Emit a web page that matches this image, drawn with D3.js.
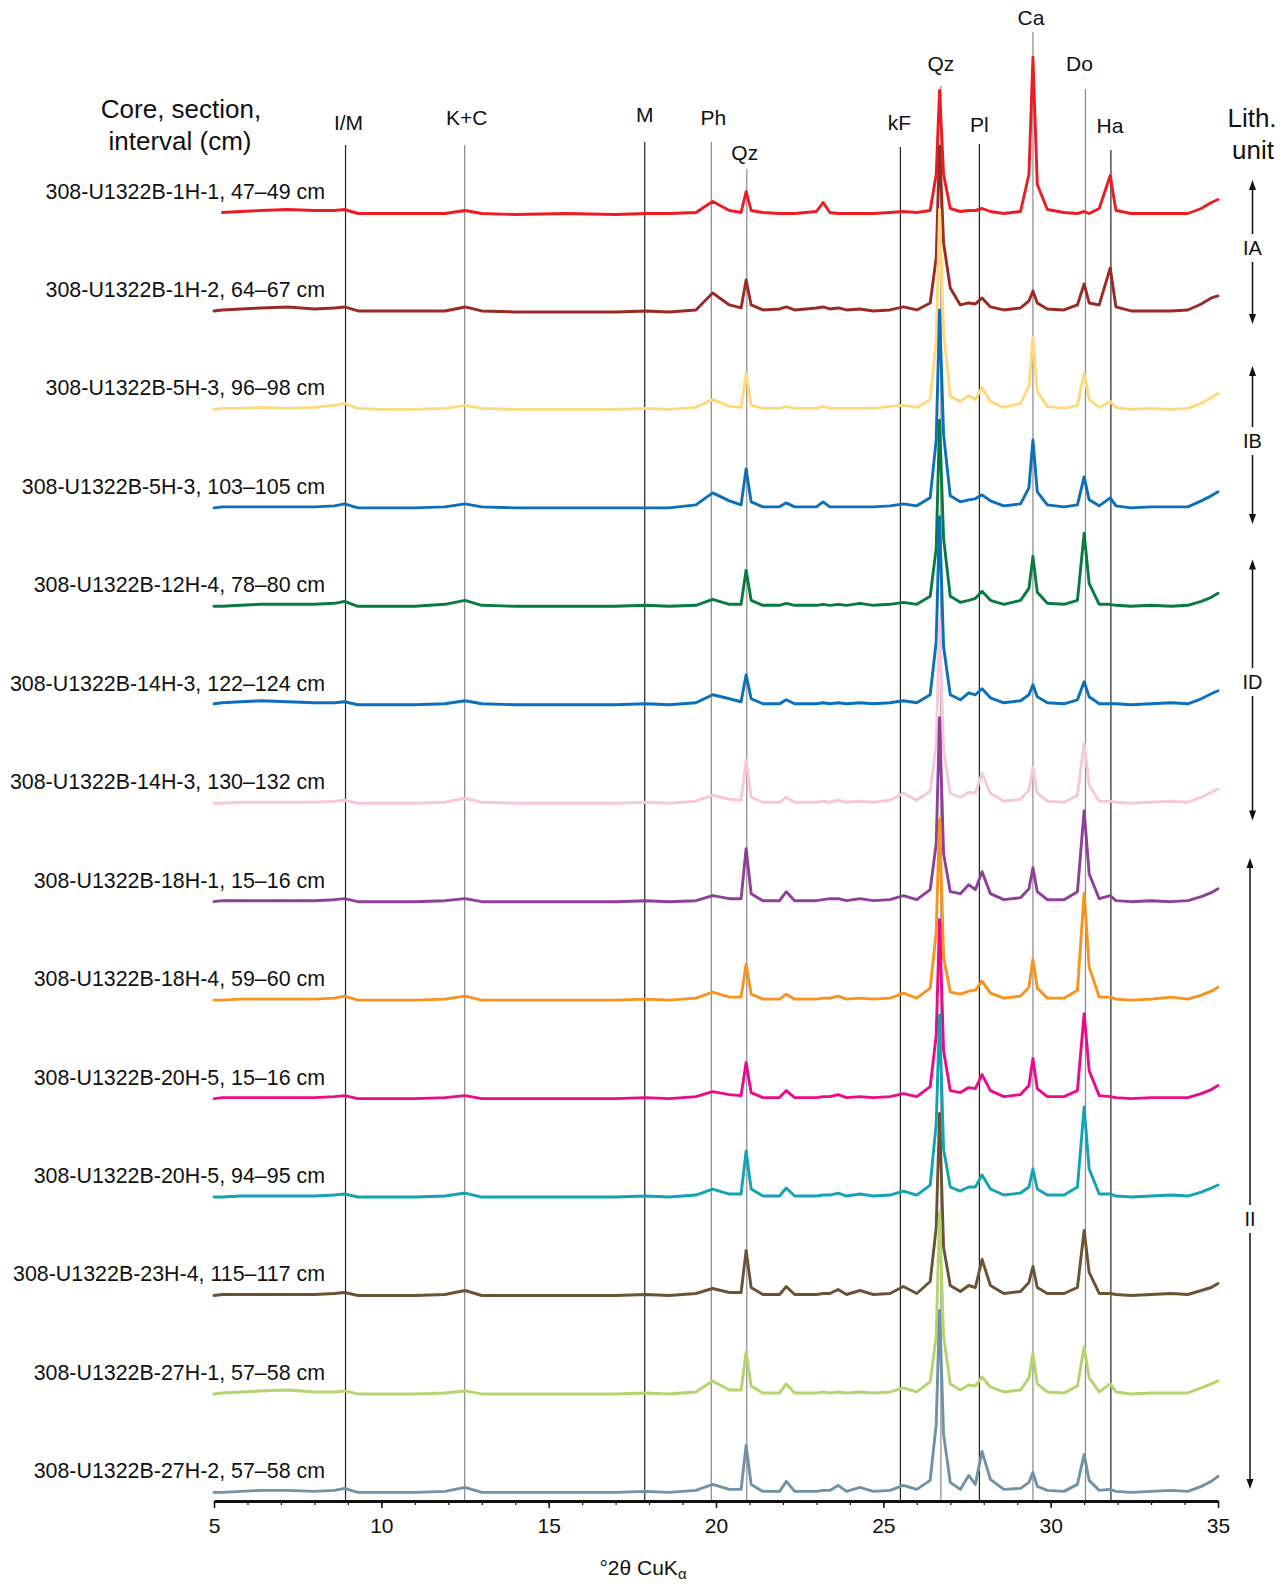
<!DOCTYPE html>
<html><head><meta charset="utf-8">
<script src="https://cdn.jsdelivr.net/npm/d3@7"></script>
<style>
body{margin:0;background:#fff}
svg{display:block}
text{font-family:"Liberation Sans",Arial,Helvetica,sans-serif;fill:#111}
</style>
</head><body>
<svg id="chart" width="1288" height="1587"></svg>
<script>
// ---------- DATA ----------
const twoTheta = [5.0,5.25,5.8,6.4,7.2,8.0,8.6,8.9,9.3,10.0,11.0,
  11.9,12.5,13.0,14.0,15.5,17.0,17.9,18.6,19.4,19.9,
  20.4,20.75,20.9,21.05,21.4,21.9,22.1,22.35,23.0,23.2,
  23.4,23.65,23.9,24.3,24.7,25.2,25.6,26.0,26.4,26.58,
  26.68,26.8,27.0,27.3,27.55,27.75,27.95,28.2,28.6,29.1,
  29.35,29.47,29.6,29.9,30.4,30.8,31.0,31.15,31.45,31.78,
  31.95,32.4,33.0,33.6,34.1,34.5,34.8,35.0];

const samples = [
  "308-U1322B-1H-1, 47–49 cm",
  "308-U1322B-1H-2, 64–67 cm",
  "308-U1322B-5H-3, 96–98 cm",
  "308-U1322B-5H-3, 103–105 cm",
  "308-U1322B-12H-4, 78–80 cm",
  "308-U1322B-14H-3, 122–124 cm",
  "308-U1322B-14H-3, 130–132 cm",
  "308-U1322B-18H-1, 15–16 cm",
  "308-U1322B-18H-4, 59–60 cm",
  "308-U1322B-20H-5, 15–16 cm",
  "308-U1322B-20H-5, 94–95 cm",
  "308-U1322B-23H-4, 115–117 cm",
  "308-U1322B-27H-1, 57–58 cm",
  "308-U1322B-27H-2, 57–58 cm"
];

// relative intensities (arbitrary units) at each twoTheta position
const s1H1 = [null,2,3,4,5,4,4,5,1,1,1, 1,4,1,0,1,0,1,1,2,13, 4,2,23,4,2,1,1,1,3,12, 2,1,1,1,1,2,3,2,4,40, 124,40,6,3,4,4,6,3,1,3, 40,157,30,5,2,1,3,1,6,39, 4,1,1,1,1,6,12,15];
const s1H2 = [2,3,4,5,6,4,5,6,2,2,2, 2,6,2,1,1,1,2,1,3,20, 8,5,33,8,3,4,6,3,5,6, 4,5,3,4,2,3,6,3,10,55, 167,70,25,8,10,9,15,6,3,5, 12,22,10,4,3,8,29,10,8,45, 6,2,2,2,3,9,15,17];
const s5H3a = [2,3,3,4,3,4,6,8,3,2,2, 3,6,3,2,2,2,3,2,4,12, 5,4,38,6,3,3,5,3,3,5, 3,3,3,3,3,5,6,4,12,70, 202,80,15,10,16,12,24,10,4,8, 25,74,20,5,3,6,38,12,4,10, 4,2,3,2,3,8,14,18];
const s5H3b = [2,3,3,3,3,3,4,6,2,2,2, 3,6,3,2,2,2,2,2,5,17, 9,5,41,8,3,3,7,3,3,8, 3,3,3,3,3,4,6,4,12,70, 200,75,14,8,10,11,15,9,4,6, 22,70,18,5,3,5,33,10,4,12, 4,2,3,3,3,9,14,18];
const s12H4 = [2,2,3,4,4,4,5,7,2,2,2, 4,8,3,2,2,2,3,2,3,9, 4,4,38,8,3,3,5,3,3,4, 3,4,3,5,3,4,6,4,12,60, 188,70,12,6,8,10,17,8,4,8, 20,52,16,5,4,8,75,25,4,4, 3,2,3,2,3,7,11,15];
const s14H3a = [3,4,5,6,5,4,4,5,2,2,2, 3,6,3,2,2,2,3,2,4,12, 8,5,32,8,3,3,7,3,3,4, 3,4,3,4,3,4,6,4,12,65, 190,60,12,7,14,12,18,9,4,6, 12,22,10,4,3,7,25,10,3,3, 3,2,3,4,3,8,13,16];
const s14H3b = [2,2,3,3,3,3,4,5,2,2,2, 3,7,3,2,2,2,3,2,4,10, 6,5,45,8,3,3,8,3,3,4, 3,5,3,4,3,5,12,5,14,60, 185,55,12,8,13,12,32,12,4,6, 15,38,12,4,3,10,62,20,4,4, 3,2,3,4,3,8,13,16];
const s18H1 = [2,3,3,3,3,3,4,5,2,2,2, 3,5,2,2,2,2,3,2,3,8, 5,5,55,10,3,3,12,3,3,4, 5,5,3,5,3,4,8,4,14,60, 186,50,12,10,19,14,32,10,4,6, 15,36,12,4,4,12,93,30,5,8, 3,2,3,2,3,7,11,15];
const s18H4 = [2,2,3,3,3,3,4,6,2,2,2, 3,6,2,2,2,2,3,2,4,10, 5,5,38,8,3,3,8,3,3,4, 4,6,3,4,3,4,9,4,14,70, 183,45,10,8,11,12,21,9,4,6, 15,43,14,4,4,12,109,35,5,5, 3,2,3,5,3,7,11,15];
const s20H5a = [2,3,3,3,3,3,4,5,2,2,2, 3,5,2,2,2,2,3,2,4,9, 6,5,38,8,3,3,10,3,3,4, 4,6,3,4,3,4,7,4,14,65, 181,50,10,8,13,12,26,10,4,6, 15,42,12,4,4,10,87,30,5,4, 3,2,3,3,3,7,11,15];
const s20H5b = [2,2,3,3,3,3,4,5,2,2,2, 3,6,2,2,2,2,3,2,4,10, 5,5,48,10,3,3,11,3,3,4, 4,6,3,5,3,4,8,4,14,75, 184,50,12,8,12,12,24,10,4,6, 12,30,10,4,4,12,92,30,5,5, 3,2,3,4,3,7,11,14];
const s23H4 = [2,3,3,3,3,3,4,5,2,2,2, 3,7,2,2,2,2,3,2,4,9, 5,5,47,10,3,3,11,3,3,4, 4,8,3,7,3,4,11,4,16,70, 184,50,12,6,12,10,38,12,4,6, 15,31,10,4,4,10,67,25,4,4, 3,2,3,4,3,7,10,14];
const s27H1 = [2,3,4,5,6,4,4,5,2,2,2, 3,5,2,2,2,2,3,2,4,15, 6,6,44,10,3,3,12,3,3,4, 3,4,3,4,3,4,8,4,14,60, 184,60,12,6,11,10,19,9,4,6, 18,43,12,4,3,10,49,18,4,12, 4,2,3,3,3,8,12,15];
const s27H2 = [2,2,3,4,4,3,4,6,2,2,2, 3,7,2,2,2,2,3,2,4,10, 5,5,49,10,3,3,13,3,3,4, 4,9,3,7,3,4,9,5,14,70, 184,60,12,5,19,10,43,15,5,6, 12,22,8,4,3,10,40,14,4,5, 3,2,3,4,3,8,13,18];

const seriesValues = [s1H1,s1H2,s5H3a,s5H3b,s12H4,s14H3a,s14H3b,s18H1,s18H4,s20H5a,s20H5b,s23H4,s27H1,s27H2];

const mineralNames = ["I/M","K+C","M","Ph","Qz","kF","Qz","Pl","Ca","Do","Ha"];
const mineralTheta = [8.93,12.49,17.87,19.86,20.92,25.51,26.72,27.87,29.47,31.04,31.8];

const xTickLabels = [5,10,15,20,25,30,35];

const unitNames = ["IA","IB","ID","II"];

// ---------- STYLE / LAYOUT ----------
const colors = ["#ED1C24","#992A26","#FED97E","#0B6FBA","#0A7A43","#0B70BC","#F7C7DA",
                "#8E3F98","#F7931E","#EC0A8C","#12A3B5","#6A5234","#B5D46E","#6F93A6"];
const mineralLabelY = [129.5,125,122,125,159.5,130,71,132,25,71,133];
const mineralLabelDx = [3,2,0,2,-2,-1,0,0,-2,-6,-1];
const mineralLineTop = [145,145,142,142,169,147,86,144,32,89,150];
const mineralLineColor = ["#222","#888","#222","#888","#888","#222","#888","#222","#888","#888","#222"];
const unitTop = [180,366,559.5,858];
const unitBottom = [324,524,820.5,1489];
const unitLabelY = [248,441,682,1219];
const unitX = [1252.5,1252.5,1252.5,1250];

const svg = d3.select("#chart");
const axisY = 1501;
const x = d3.scaleLinear().domain([5,35]).range([214,1218]);
const row = d3.scalePoint().domain(d3.range(samples.length)).range([214.5,1494.4]);
const yI = d3.scaleLinear().domain([0,200]).range([0,200]);

// reference lines
const gm = svg.append("g");
mineralNames.forEach((m,i)=>{
  gm.append("line")
    .attr("x1",x(mineralTheta[i])).attr("x2",x(mineralTheta[i]))
    .attr("y1",mineralLineTop[i]).attr("y2",axisY)
    .attr("stroke",mineralLineColor[i]).attr("stroke-width",1.2);
  gm.append("text")
    .attr("x",x(mineralTheta[i])+mineralLabelDx[i]).attr("y",mineralLabelY[i])
    .attr("text-anchor","middle").attr("font-size",21).text(m);
});

// traces
const gt = svg.append("g");
seriesValues.forEach((vals,i)=>{
  const pts = twoTheta.map((t,j)=>[t,vals[j]]);
  const line = d3.line().defined(d=>d[1]!=null)
    .x(d=>x(d[0])).y(d=>row(i)-yI(d[1]));
  gt.append("path").datum(pts).attr("d",line)
    .attr("fill","none").attr("stroke",colors[i])
    .attr("stroke-width",2.9).attr("stroke-linejoin","round").attr("stroke-linecap","round");
  svg.append("text").attr("x",325).attr("y",row(i)-16)
    .attr("text-anchor","end").attr("font-size",21.4).text(samples[i]);
});

// axis
const minor = svg.append("g").attr("transform",`translate(0,${axisY})`)
  .call(d3.axisBottom(x).tickValues(d3.range(5,36)).tickSize(4).tickFormat(""));
minor.select(".domain").remove();
minor.selectAll("line").attr("stroke","#111").attr("stroke-width",1.2);
const major = svg.append("g").attr("transform",`translate(0,${axisY})`)
  .call(d3.axisBottom(x).tickValues(xTickLabels).tickSize(7).tickSizeOuter(0).tickPadding(10));
major.select(".domain").attr("stroke","#111").attr("stroke-width",3);
major.selectAll(".tick line").attr("stroke","#111").attr("stroke-width",1.5);
major.selectAll(".tick text").attr("font-size",21).attr("font-family","Liberation Sans, Arial, sans-serif").attr("fill","#111");

const xt = svg.append("text").attr("x",643).attr("y",1575).attr("text-anchor","middle").attr("font-size",21);
xt.append("tspan").text("°2θ CuK");
xt.append("tspan").attr("dy",4).attr("font-size",15).text("α");

// headers
svg.append("text").attr("x",181).attr("y",118).attr("text-anchor","middle").attr("font-size",26).text("Core, section,");
svg.append("text").attr("x",180).attr("y",150).attr("text-anchor","middle").attr("font-size",26).text("interval (cm)");
svg.append("text").attr("x",1252).attr("y",127).attr("text-anchor","middle").attr("font-size",26).text("Lith.");
svg.append("text").attr("x",1253).attr("y",159).attr("text-anchor","middle").attr("font-size",26).text("unit");

// lith unit arrows
unitNames.forEach((u,i)=>{
  const ux = unitX[i], t = unitTop[i], b = unitBottom[i], ly = unitLabelY[i];
  const g = svg.append("g");
  g.append("line").attr("x1",ux).attr("x2",ux).attr("y1",t+8).attr("y2",ly-14).attr("stroke","#111").attr("stroke-width",1.5);
  g.append("line").attr("x1",ux).attr("x2",ux).attr("y1",ly+14).attr("y2",b-8).attr("stroke","#111").attr("stroke-width",1.5);
  g.append("path").attr("d",`M${ux},${t} L${ux-3.5},${t+10} L${ux+3.5},${t+10} Z`).attr("fill","#111");
  g.append("path").attr("d",`M${ux},${b} L${ux-3.5},${b-10} L${ux+3.5},${b-10} Z`).attr("fill","#111");
  g.append("text").attr("x",ux).attr("y",ly+7).attr("text-anchor","middle").attr("font-size",20).text(u);
});
</script>
</body></html>
